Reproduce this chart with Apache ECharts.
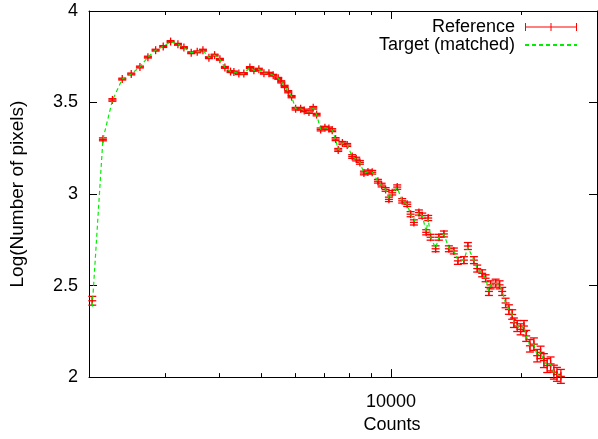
<!DOCTYPE html>
<html>
<head>
<meta charset="utf-8">
<title>Log(Number of pixels) vs Counts</title>
<script src="https://cdn.jsdelivr.net/npm/echarts@6/dist/echarts.min.js"></script>
<style>
  html, body { margin: 0; padding: 0; background: #fff; }
  #chart { width: 598px; height: 439px; }
</style>
</head>
<body>
<div id="chart"></div>
<script>
  // x values (Counts)
  var counts = [2035, 2154, 2266, 2388, 2505, 2624, 2738, 2853, 2971, 3090,
    3213, 3317, 3449, 3561, 3671, 3790, 3907, 4019, 4127, 4254,
    4330, 4446, 4566, 4715, 4817, 4946, 5082, 5219, 5340, 5484,
    5573, 5674, 5785, 5890, 6017, 6180, 6299, 6460, 6609, 6730,
    6876, 7034, 7186, 7313, 7447, 7551, 7722, 7922, 8136, 8312,
    8477, 8660, 8847, 9051, 9331, 9517, 9721, 9894, 10069, 10342,
    10621, 10907, 11107, 11304, 11609, 11817, 12070, 12199, 12357, 12690,
    12915, 13263, 13621, 13987, 14290, 14757, 15073, 15564, 15841, 16267,
    16565, 16862, 17014, 17474, 17849, 18098, 18430, 18756, 19091, 19263,
    19608, 19963, 20321, 20570, 20981, 21429, 21812, 22208, 22605, 23004,
    23426, 23840, 24228, 24747];

  // Reference: log(number of pixels) and its error
  var refLog = [2.417, 3.299, 3.514, 3.628, 3.656, 3.694, 3.748, 3.786, 3.806, 3.833,
    3.818, 3.800, 3.772, 3.777, 3.786, 3.745, 3.759, 3.736, 3.692, 3.669,
    3.667, 3.658, 3.658, 3.691, 3.676, 3.682, 3.660, 3.660, 3.649, 3.632,
    3.613, 3.588, 3.559, 3.532, 3.466, 3.466, 3.457, 3.448, 3.471, 3.434,
    3.353, 3.362, 3.358, 3.349, 3.300, 3.241, 3.279, 3.268, 3.205, 3.191,
    3.173, 3.115, 3.121, 3.119, 3.070, 3.049, 3.025, 2.971, 3.007, 3.038,
    2.963, 2.944, 2.890, 2.845, 2.899, 2.882, 2.791, 2.869, 2.764, 2.701,
    2.764, 2.782, 2.701, 2.689, 2.635, 2.639, 2.716, 2.639, 2.593, 2.567,
    2.540, 2.468, 2.504, 2.513, 2.504, 2.468, 2.405, 2.369, 2.342, 2.297,
    2.279, 2.261, 2.279, 2.225, 2.171, 2.180, 2.117, 2.135, 2.090, 2.063,
    2.072, 2.027, 2.015, 2.004];

  var refErr = [0.024, 0.008, 0.007, 0.005, 0.005, 0.005, 0.005, 0.005, 0.005, 0.005,
    0.005, 0.005, 0.005, 0.005, 0.005, 0.005, 0.005, 0.005, 0.005, 0.005,
    0.005, 0.005, 0.005, 0.005, 0.005, 0.005, 0.005, 0.005, 0.005, 0.005,
    0.006, 0.006, 0.006, 0.006, 0.007, 0.007, 0.007, 0.007, 0.007, 0.007,
    0.008, 0.008, 0.008, 0.008, 0.008, 0.008, 0.008, 0.008, 0.010, 0.010,
    0.010, 0.010, 0.010, 0.010, 0.010, 0.010, 0.010, 0.012, 0.012, 0.012,
    0.012, 0.012, 0.014, 0.014, 0.014, 0.014, 0.014, 0.014, 0.016, 0.016,
    0.016, 0.016, 0.016, 0.016, 0.019, 0.019, 0.019, 0.019, 0.019, 0.019,
    0.019, 0.022, 0.022, 0.022, 0.022, 0.022, 0.026, 0.026, 0.026, 0.026,
    0.030, 0.030, 0.030, 0.030, 0.034, 0.034, 0.034, 0.034, 0.038, 0.038,
    0.038, 0.038, 0.038, 0.038];

  // Target (matched) curve
  var targetLog = [2.385, 3.299, 3.512, 3.628, 3.656, 3.694, 3.748, 3.786, 3.806, 3.833,
    3.818, 3.800, 3.772, 3.777, 3.786, 3.745, 3.759, 3.736, 3.692, 3.669,
    3.667, 3.658, 3.658, 3.691, 3.676, 3.682, 3.660, 3.660, 3.649, 3.632,
    3.613, 3.588, 3.559, 3.532, 3.466, 3.466, 3.457, 3.448, 3.471, 3.434,
    3.353, 3.362, 3.358, 3.349, 3.300, 3.241, 3.279, 3.268, 3.205, 3.191,
    3.173, 3.115, 3.121, 3.119, 3.070, 3.049, 3.025, 2.975, 3.007, 3.035,
    2.963, 2.944, 2.890, 2.850, 2.899, 2.882, 2.795, 2.865, 2.764, 2.705,
    2.764, 2.780, 2.705, 2.689, 2.640, 2.639, 2.710, 2.639, 2.593, 2.567,
    2.540, 2.470, 2.504, 2.513, 2.504, 2.468, 2.405, 2.369, 2.342, 2.297,
    2.279, 2.261, 2.279, 2.225, 2.171, 2.180, 2.117, 2.135, 2.090, 2.063,
    2.072, 2.027, 2.015, 2.004];

  // axis ticks
  var xMajorTicks = [10000];
  var xMinorTicks = [3000, 4000, 5000, 6000, 7000, 8000, 9000, 20000];
  var yTicks = [2, 2.5, 3, 3.5, 4];

  var FONT = "'Liberation Sans', Arial, sans-serif";
  var FS = 18;

  var refData = counts.map(function (c, i) { return [c, refLog[i], refErr[i]]; });
  var targetData = counts.map(function (c, i) { return [c, targetLog[i]]; });

  var errIcon = 'path://M0,3.5H52V4.5H0Z M0,0H1V8H0Z M51,0H52V8H51Z M25.5,0H26.5V8H25.5Z';

  function xAxisDef(pos, ticks, len, showLine, withLabel) {
    return {
      type: 'log',
      min: 2000,
      max: 30000,
      position: pos,
      axisLine: { show: showLine, onZero: false, lineStyle: { color: '#000', width: 1 } },
      axisTick: { show: true, inside: true, length: len, customValues: ticks,
        lineStyle: { color: '#000', width: 1 } },
      axisLabel: withLabel ? {
        show: true, customValues: ticks, margin: 16, color: '#000',
        fontFamily: FONT, fontSize: FS,
        formatter: function (v) { return String(Math.round(v)); }
      } : { show: false },
      splitLine: { show: false },
      minorTick: { show: false },
      name: withLabel ? 'Counts' : '',
      nameLocation: 'middle',
      nameGap: 34,
      // gnuplot centred the label off the plot middle
      nameTextStyle: { color: '#000', fontFamily: FONT, fontSize: FS, padding: [0, 0, 0, 98] }
    };
  }

  var chart = echarts.init(document.getElementById('chart'));
  chart.setOption({
    animation: false,
    backgroundColor: '#fff',
    grid: { left: 89, right: 1, top: 11, bottom: 57 },
    legend: {
      orient: 'vertical',
      right: 20,
      top: 18,
      align: 'right',
      itemWidth: 52,
      itemHeight: 8,
      itemGap: 0,
      padding: 0,
      textStyle: { color: '#000', fontFamily: FONT, fontSize: FS, padding: [0, 5, 0, 0] },
      data: [
        { name: 'Reference', icon: errIcon, itemStyle: { color: '#ff0000' } },
        { name: 'Target (matched)', itemStyle: { opacity: 0 } }
      ]
    },
    xAxis: [
      xAxisDef('bottom', xMajorTicks, 8, true, true),
      xAxisDef('bottom', xMinorTicks, 4, false, false),
      xAxisDef('top', xMajorTicks, 8, true, false),
      xAxisDef('top', xMinorTicks, 4, false, false)
    ],
    yAxis: [{
      type: 'value',
      min: 2,
      max: 4,
      interval: 0.5,
      position: 'left',
      axisLine: { show: true, onZero: false, lineStyle: { color: '#000' } },
      axisTick: { inside: true, length: 8, lineStyle: { color: '#000' } },
      axisLabel: { margin: 11, color: '#000', fontFamily: FONT, fontSize: FS,
        customValues: yTicks },
      splitLine: { show: false },
      name: 'Log(Number of pixels)',
      nameLocation: 'middle',
      nameGap: 62,
      nameTextStyle: { color: '#000', fontFamily: FONT, fontSize: 19 }
    }, {
      type: 'value',
      min: 2,
      max: 4,
      interval: 0.5,
      position: 'right',
      axisLine: { show: true, onZero: false, lineStyle: { color: '#000' } },
      axisTick: { inside: true, length: 8, lineStyle: { color: '#000' } },
      axisLabel: { show: false },
      splitLine: { show: false }
    }],
    series: [{
      name: 'Reference',
      type: 'custom',
      xAxisIndex: 0,
      yAxisIndex: 0,
      z: 2,
      itemStyle: { color: '#ff0000' },
      data: refData,
      renderItem: function (params, api) {
        var x = api.value(0), y = api.value(1), e = api.value(2);
        var p = api.coord([x, y]);
        var hi = api.coord([x, y + e]);
        var lo = api.coord([x, y - e]);
        var st = { stroke: '#ff0000', lineWidth: 1.3 };
        var cw = 4, pw = 4;
        return {
          type: 'group',
          children: [
            { type: 'line', shape: { x1: p[0], y1: hi[1], x2: p[0], y2: lo[1] }, style: st },
            { type: 'line', shape: { x1: p[0] - cw, y1: hi[1], x2: p[0] + cw, y2: hi[1] }, style: st },
            { type: 'line', shape: { x1: p[0] - cw, y1: lo[1], x2: p[0] + cw, y2: lo[1] }, style: st },
            { type: 'line', shape: { x1: p[0] - pw, y1: p[1], x2: p[0] + pw, y2: p[1] }, style: st },
            { type: 'line', shape: { x1: p[0], y1: p[1] - pw, x2: p[0], y2: p[1] + pw }, style: st }
          ]
        };
      }
    }, {
      name: 'Target (matched)',
      type: 'line',
      xAxisIndex: 0,
      yAxisIndex: 0,
      z: 3,
      symbol: 'none',
      data: targetData,
      itemStyle: { color: '#00ee00' },
      lineStyle: { color: '#00ee00', width: 1.2, type: [4, 3] }
    }]
  });
</script>
</body>
</html>
